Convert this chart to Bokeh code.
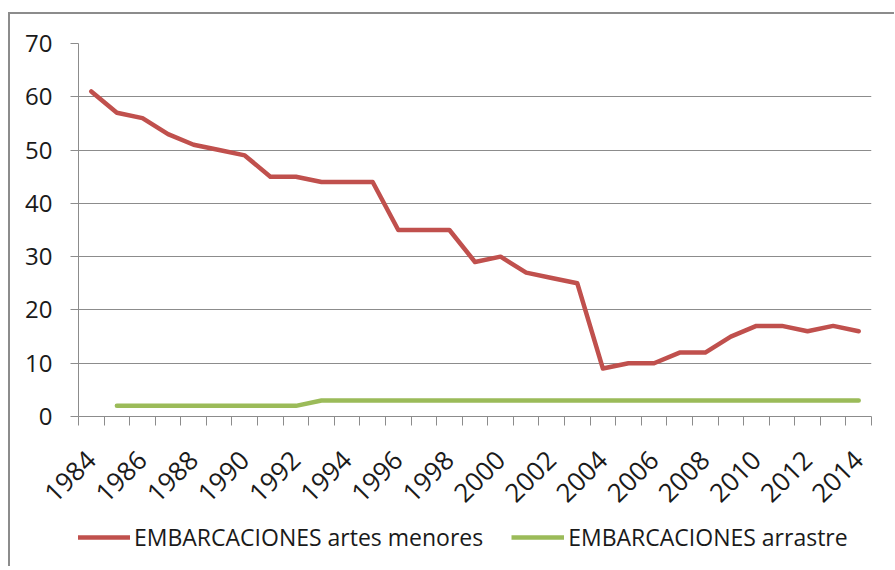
import math
from bokeh.plotting import figure
from bokeh.layouts import column
from bokeh.models import FixedTicker, Legend, LegendItem, Range1d
from bokeh.embed import file_html
from bokeh.resources import INLINE

# ---- data ----
years = list(range(1984, 2015))
artes_menores = [61, 57, 56, 53, 51, 50, 49, 45, 45, 44, 44, 44, 35, 35, 35,
                 29, 30, 27, 26, 25, 9, 10, 10, 12, 12, 15, 17, 17, 16, 17, 16]
arrastre_years = list(range(1985, 2015))
arrastre = [2, 2, 2, 2, 2, 2, 2, 2,
            3, 3, 3, 3, 3, 3, 3, 3, 3, 3, 3, 3, 3, 3, 3, 3, 3, 3, 3, 3, 3, 3]
label_years = list(range(1984, 2015, 2))
y_ticks = [0, 10, 20, 30, 40, 50, 60, 70]
series_names = ["EMBARCACIONES artes menores", "EMBARCACIONES arrastre"]

RED = "#C0504D"
GREEN = "#9BBB59"
GRID = "#8c8c8c"
TXT = "#1a1a1a"
FONT = "Open Sans"
LW = 4.5

p = figure(width=884, height=502,
           x_range=Range1d(years[0] - 0.5, years[-1] + 0.5),
           y_range=Range1d(y_ticks[0], y_ticks[-1]),
           output_backend="svg", toolbar_location=None,
           min_border_left=68, min_border_right=23,
           min_border_top=29, min_border_bottom=100)
p.outline_line_color = None
p.background_fill_color = "white"
p.border_fill_color = "white"

# x axis
p.xaxis.ticker = FixedTicker(ticks=label_years,
                             minor_ticks=[y - 0.5 for y in years] + [years[-1] + 0.5])
p.xaxis.major_tick_line_color = None
p.xaxis.major_tick_out = 8
p.xaxis.major_tick_in = 0
p.xaxis.minor_tick_line_color = GRID
p.xaxis.minor_tick_out = 9
p.xaxis.minor_tick_in = 0
p.xaxis.minor_tick_line_width = 1
p.xaxis.major_label_orientation = math.pi / 4
p.xaxis.major_label_standoff = 30
p.xaxis.major_label_text_font_size = "26px"

# y axis
p.yaxis.ticker = FixedTicker(ticks=y_ticks, minor_ticks=[])
p.yaxis.major_tick_out = 8
p.yaxis.major_tick_in = 0
p.yaxis.major_tick_line_color = GRID
p.yaxis.minor_tick_line_color = None
p.yaxis.major_label_standoff = 18
p.yaxis.major_label_text_font_size = "24px"

for ax in (p.xaxis, p.yaxis):
    ax.axis_line_color = GRID
    ax.axis_line_width = 1
    ax.major_label_text_font = FONT
    ax.major_label_text_color = TXT

p.xgrid.visible = False
p.ygrid.ticker = FixedTicker(ticks=y_ticks[1:])
p.ygrid.grid_line_color = GRID
p.ygrid.grid_line_width = 1

r1 = p.line(years, artes_menores, line_color=RED, line_width=LW,
            line_join="round", line_cap="round")
r2 = p.line(arrastre_years, arrastre, line_color=GREEN, line_width=LW,
            line_join="round", line_cap="round")

# ---- legend strip (separate figure so the legend is not clipped) ----
# same series drawn again, but the strip's y range excludes them, so only
# the legend shows
leg = figure(width=884, height=50, x_range=p.x_range, y_range=Range1d(1000, 1001),
             output_backend="svg", toolbar_location=None,
             min_border_left=0, min_border_right=0, min_border_top=0, min_border_bottom=0)
leg.axis.visible = False
leg.grid.visible = False
leg.outline_line_color = None
leg.background_fill_color = "white"
leg.border_fill_color = "white"
g1 = leg.line(years, artes_menores, line_color=RED, line_width=LW)
g2 = leg.line(arrastre_years, arrastre, line_color=GREEN, line_width=LW)

legend = Legend(items=[LegendItem(label=series_names[0], renderers=[g1]),
                       LegendItem(label=series_names[1], renderers=[g2])],
                orientation="horizontal", location=(-1, 13),
                border_line_color=None, background_fill_alpha=0,
                padding=0, margin=0, spacing=28, glyph_width=53,
                glyph_height=20, label_height=20, label_standoff=4,
                label_text_font=FONT, label_text_font_size="23px",
                label_text_color=TXT)
leg.add_layout(legend)

layout = column(p, leg, spacing=0)
layout.styles = {"border-top": f"2px solid {GRID}", "border-left": f"2px solid {GRID}",
                 "margin-top": "12px", "margin-left": "8px"}

open("out.html", "w").write(file_html(layout, INLINE))
